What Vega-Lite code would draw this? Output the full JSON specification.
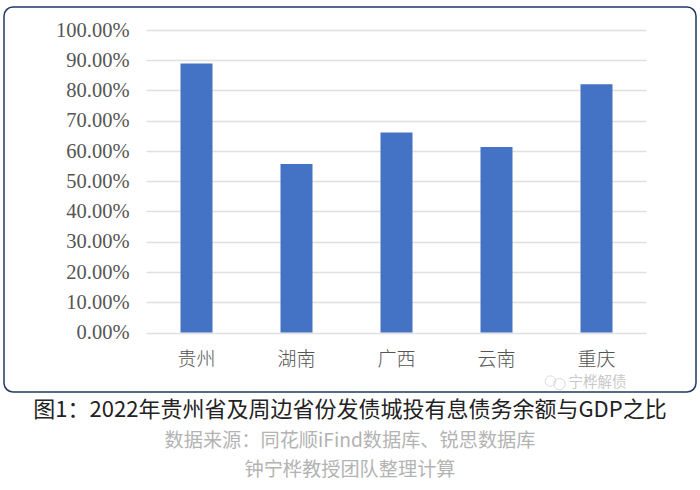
{
 "$schema":"https://vega.github.io/schema/vega-lite/v6.json",
 "width":692,"height":385,
 "padding":{"left":4,"top":7,"right":4,"bottom":8},
 "background":"white",
 "view":{"stroke":"#1f3864","strokeWidth":1.5,"cornerRadius":9,"fill":"white"},
 "title":{"text":"图1\uff1a2022年贵州省及周边省份发债城投有息债务余额与GDP之比","subtitle":["数据来源\uff1a同花顺iFind数据库、锐思数据库","钟宁桦教授团队整理计算"],"orient":"bottom","anchor":"middle","offset":8,"font":"Noto Sans CJK SC","fontSize":22,"fontWeight":"normal","color":"#222222","subtitleFont":"Noto Sans CJK SC","subtitleFontSize":19.2,"subtitleColor":"#b3b3b3","subtitlePadding":10,"subtitleLineHeight":29},
 "data":{"values":[
  {"province":"贵州","ratio":0.889},
  {"province":"湖南","ratio":0.557},
  {"province":"广西","ratio":0.661},
  {"province":"云南","ratio":0.613},
  {"province":"重庆","ratio":0.821}
 ]},
 "layer":[
  {"mark":{"type":"bar","color":"#4472c4"},
   "encoding":{
    "x":{"field":"province","type":"nominal","sort":null,
     "scale":{"range":[142.5,642.5],"paddingInner":0.68,"paddingOuter":0.34},
     "axis":{"title":null,"labelAngle":0,"domain":false,"ticks":false,"offset":-33,"labelPadding":0,"labelBaseline":"middle","labelFont":"Noto Sans CJK SC","labelFontWeight":300,"labelFontSize":19,"labelColor":"#555555"}},
    "y":{"field":"ratio","type":"quantitative",
     "scale":{"domain":[0,1],"range":[325.5,23],"nice":false},
     "axis":{"title":null,"orient":"left","offset":-142,"grid":false,"domain":false,"tickCount":11,"format":".2%","tickSize":-500,"tickColor":"#e0e0e0","tickWidth":1.5,"labelPadding":517,"labelFont":"Liberation Serif","labelFontSize":20.5,"labelColor":"#555555"}}
   }},
  {"data":{"values":[{"province":"重庆","ratio":-0.164,"note":"宁桦解债"}]},
   "layer":[
    {"mark":{"type":"text","font":"Noto Sans CJK SC","fontSize":14.5,"color":"#c8c8c8","clip":false,"align":"center","dx":1,"dy":1},
     "encoding":{"text":{"field":"note"}}},
    {"mark":{"type":"point","shape":"circle","filled":false,"color":"#cccccc","strokeWidth":1,"size":110,"xOffset":-46,"yOffset":-1},"encoding":{}},
    {"mark":{"type":"point","shape":"circle","filled":false,"color":"#cccccc","strokeWidth":1,"size":130,"xOffset":-37,"yOffset":2},"encoding":{}}
   ],
   "encoding":{
    "x":{"field":"province","type":"nominal","sort":null},
    "y":{"field":"ratio","type":"quantitative"}
   }}
 ]
}
